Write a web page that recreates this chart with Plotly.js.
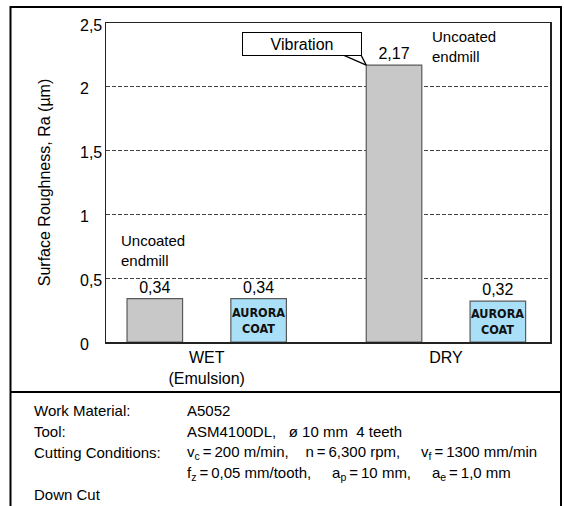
<!DOCTYPE html>
<html>
<head>
<meta charset="utf-8">
<script src="https://cdn.plot.ly/plotly-3.0.1.min.js"></script>
<style>html,body{margin:0;padding:0;background:#fff;}#chart{width:564px;height:506px;}</style>
</head>
<body>
<div id="chart"></div>
<script>
// ---- data ----
const categories = ['WET', 'DRY'];
const categoryLabels = ['WET<br>(Emulsion)', 'DRY'];
const uncoatedRa = [0.34, 2.17];
const auroraRa = [0.34, 0.32];
const yTickVals = [0, 0.5, 1, 1.5, 2, 2.5];
const yTickText = ['0', '0,5', '1', '1,5', '2', '2,5'];
const auroraLabel = 'AURORA<br>COAT';
const uncoatedLabel = 'Uncoated<br>endmill';
const calloutText = 'Vibration';
const yTitle = 'Surface Roughness, Ra (µm)';
const infoLabels = ['Work Material:', 'Tool:', 'Cutting Conditions:', '', 'Down Cut'];
const infoValues = [
  'A5052',
  'ASM4100DL,\u00A0\u00A0 ø 10 mm\u00A0 4 teeth',
  'v<sub>c</sub>\u2009=\u2009200 m/min,\u00A0\u00A0\u00A0 n\u2009=\u20096,300 rpm,\u00A0\u00A0\u00A0\u00A0 v<sub>f</sub>\u2009=\u20091300 mm/min',
  'f<sub>z</sub>\u2009=\u20090,05 mm/tooth,\u00A0\u00A0\u00A0\u00A0 a<sub>p</sub>\u2009=\u200910 mm,\u00A0\u00A0\u00A0\u00A0 a<sub>e</sub>\u2009=\u20091,0 mm',
  ''
];

// ---- layout geometry ----
const W = 564, H = 506;
const M = {l: 106, r: 14, t: 23, b: 164};
const PW = W - M.l - M.r, PH = H - M.t - M.b;
const px = x => (x - M.l) / PW;
const py = y => (H - M.b - y) / PH;
const FONT = 'Liberation Sans, Arial, Helvetica, sans-serif';
const NARROW = 'Liberation Sans Narrow, Arial Narrow, DejaVu Sans Condensed, sans-serif';
const xRange = [-0.421, 1.435], yRange = [0, 2.5];
const bargap = 0.132, bargroupgap = 0.465;
const slot = (1 - bargap) / 2;
const offset = slot / 2;
const halfBar = slot * (1 - bargroupgap) / 2;

const traces = [
  {type: 'bar', x: categories, y: uncoatedRa, name: 'Uncoated',
   marker: {color: '#c8c8c8', line: {color: '#5a5a5a', width: 1.2}},
   texttemplate: '%{y:.2f}', textposition: 'outside', cliponaxis: false,
   textfont: {family: FONT, size: 16, color: '#000'}, hoverinfo: 'none'},
  {type: 'bar', x: categories, y: auroraRa, name: 'AURORA COAT',
   marker: {color: '#a9e0f8', line: {color: '#5a5a5a', width: 1.2}},
   texttemplate: '%{y:.2f}', textposition: 'outside', cliponaxis: false,
   textfont: {family: FONT, size: 16, color: '#000'}, hoverinfo: 'none'}
];

const annotations = [];
yTickVals.forEach((v, i) => annotations.push({
  xref: 'paper', yref: 'y', x: px(78), y: v, xanchor: 'left', yanchor: 'middle',
  text: yTickText[i], showarrow: false, yshift: -2,
  font: {family: FONT, size: 16, color: '#000'}
}));
auroraRa.forEach((v, i) => annotations.push({
  xref: 'x', yref: 'y', x: i + offset, y: v / 2, xanchor: 'center', yanchor: 'middle',
  text: '<b>' + auroraLabel + '</b>', showarrow: false,
  font: {family: NARROW, size: 12.5, color: '#111'}
}));
annotations.push({xref: 'paper', yref: 'paper', x: px(119), y: py(251), xanchor: 'left', yanchor: 'middle',
  text: uncoatedLabel, showarrow: false, align: 'left', font: {family: FONT, size: 15, color: '#000'}});
annotations.push({xref: 'paper', yref: 'paper', x: px(430), y: py(47), xanchor: 'left', yanchor: 'middle',
  text: uncoatedLabel, showarrow: false, align: 'left', font: {family: FONT, size: 15, color: '#000'}});
const tipX = 1 - offset - halfBar, tipY = uncoatedRa[1];
annotations.push({xref: 'x', yref: 'y', x: tipX, y: tipY,
  text: calloutText, showarrow: false, xshift: -64, yshift: 21.5,
  bgcolor: '#fff', bordercolor: '#000', borderwidth: 1,
  width: 116, height: 20, borderpad: 1, font: {family: FONT, size: 16, color: '#000'}});
const rowY = [410, 431, 452, 473, 494];
infoLabels.forEach((t, i) => { if (t) annotations.push({xref: 'paper', yref: 'paper', x: px(32), y: py(rowY[i]),
  xanchor: 'left', yanchor: 'middle', text: t, showarrow: false, font: {family: FONT, size: 15, color: '#000'}}); });
infoValues.forEach((t, i) => { if (t) annotations.push({xref: 'paper', yref: 'paper', x: px(185), y: py(rowY[i]),
  xanchor: 'left', yanchor: 'middle', text: t, showarrow: false, font: {family: FONT, size: 15, color: '#000'}}); });

// callout tail: two line shapes from the box bottom to the top-left corner of the DRY uncoated bar
const tipPX = (tipX - xRange[0]) / (xRange[1] - xRange[0]);
const tipPY = (tipY - yRange[0]) / (yRange[1] - yRange[0]);
const tx = d => tipPX + d / PW;
const ty = d => tipPY + d / PH;
const tailBases = [[-24, 10.5], [-6, 11.5]];

const shapes = [
  {type: 'rect', xref: 'paper', yref: 'paper', x0: px(10.5), x1: px(561), y0: py(7), y1: py(510),
   line: {color: '#000', width: 2}},
  {type: 'line', xref: 'paper', yref: 'paper', x0: px(10.5), x1: px(561), y0: py(392), y1: py(392),
   line: {color: '#000', width: 2}}
];
tailBases.forEach(([dx, dy]) => shapes.push({
  type: 'line', xref: 'paper', yref: 'paper', x0: tx(dx), y0: ty(dy), x1: tx(0), y1: ty(0),
  line: {color: '#000', width: 1.2}, layer: 'above'
}));

const layout = {
  width: W, height: H, margin: M, paper_bgcolor: '#fff', plot_bgcolor: '#fff',
  separators: ', ', showlegend: false, barmode: 'group', bargap: bargap, bargroupgap: bargroupgap,
  font: {family: FONT, size: 16, color: '#000'},
  xaxis: {type: 'category', range: xRange, tickvals: categories, ticktext: categoryLabels,
    showline: true, mirror: true, linecolor: '#222', linewidth: 1.5, ticks: '', showgrid: false,
    ticklabelshift: 8.5, tickfont: {family: FONT, size: 16, color: '#000'}, fixedrange: true},
  yaxis: {range: yRange, tickvals: yTickVals, showticklabels: false, ticks: '',
    showline: true, mirror: true, linecolor: '#222', linewidth: 1.5,
    showgrid: true, gridcolor: '#444', gridwidth: 1, griddash: '4px,2px', zeroline: false,
    title: {text: yTitle, standoff: 50, font: {family: FONT, size: 16, color: '#000'}}, fixedrange: true},
  annotations: annotations, shapes: shapes
};

Plotly.newPlot('chart', traces, layout, {staticPlot: true, displayModeBar: false});
</script>
</body>
</html>
